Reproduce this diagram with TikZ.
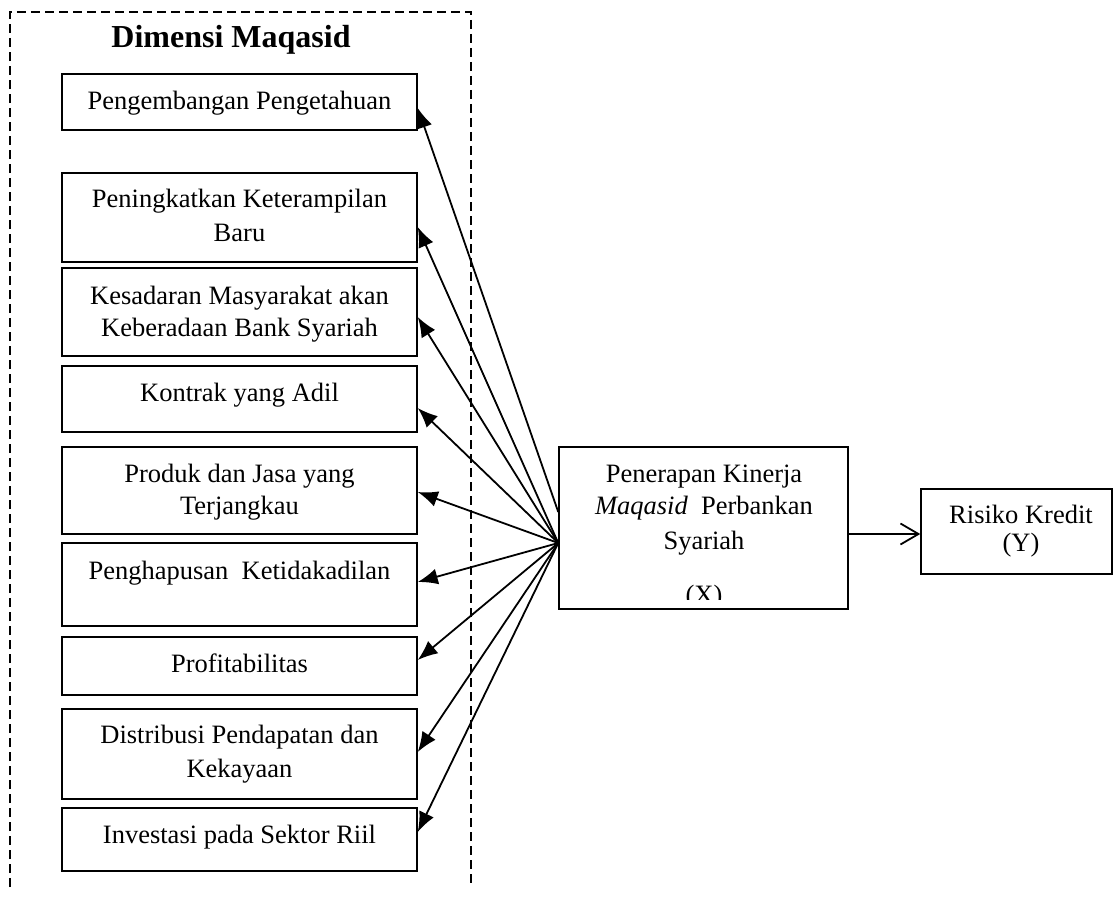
\documentclass[tikz,border=0pt]{standalone}
\usepackage{fontspec}
\setmainfont{Liberation Serif}
\usetikzlibrary{arrows.meta}
\begin{document}
\begin{tikzpicture}[x=1pt,y=-1pt,
  box/.style={draw, line width=1.5pt, inner sep=0pt, minimum width=355pt},
  lbl/.style={anchor=base, inner sep=0pt, font=\fontsize{26.5}{33}\selectfont},
  fan/.style={line width=1.8pt, -{Latex[length=20pt,width=16pt]}},
  barb/.style={line width=1.8pt, -{Straight Barb[length=18pt,width=21pt,line width=1.8pt]}},
  frame/.style={line width=1.8pt, dash pattern=on 9pt off 5pt}]
\useasboundingbox (0,0) rectangle (1114,899);
% dashed container
\draw[frame] (10,887) -- (10,12) -- (471,12) -- (471,887);
\node[anchor=base, inner sep=0pt, font=\fontsize{32}{38}\selectfont\bfseries] (title) at (231,48) {Dimensi Maqasid};
% boxes
\node[box, minimum height=56pt] (b1) at (239.5,102) {};
\node[box, minimum height=89pt] (b2) at (239.5,217.5) {};
\node[box, minimum height=88pt] (b3) at (239.5,312) {};
\node[box, minimum height=66pt] (b4) at (239.5,399) {};
\node[box, minimum height=87pt] (b5) at (239.5,490.5) {};
\node[box, minimum height=83pt] (b6) at (239.5,584.5) {};
\node[box, minimum height=58pt] (b7) at (239.5,666) {};
\node[box, minimum height=90pt] (b8) at (239.5,754) {};
\node[box, minimum height=63pt] (b9) at (239.5,839.5) {};
% labels
\node[lbl] (t1) at (239.5,109) {Pengembangan Pengetahuan};
\node[lbl] (t2a) at (239.5,207) {Peningkatkan Keterampilan};
\node[lbl] (t2b) at (239.5,241) {Baru};
\node[lbl] (t3a) at (239.5,304) {Kesadaran Masyarakat akan};
\node[lbl] (t3b) at (239.5,336) {Keberadaan Bank Syariah};
\node[lbl] (t4) at (239.5,401) {Kontrak yang Adil};
\node[lbl] (t5a) at (239.5,482) {Produk dan Jasa yang};
\node[lbl] (t5b) at (239.5,514) {Terjangkau};
\node[lbl] (t6) at (239.5,579) {Penghapusan\ \ Ketidakadilan};
\node[lbl] (t7) at (239.5,672) {Profitabilitas};
\node[lbl] (t8a) at (239.5,743) {Distribusi Pendapatan dan};
\node[lbl] (t8b) at (239.5,777) {Kekayaan};
\node[lbl] (t9) at (239.5,843) {Investasi pada Sektor Riil};
% middle box
\node[draw, line width=1.5pt, inner sep=0pt, minimum width=289pt, minimum height=162pt] (m) at (703.5,528) {};
\node[lbl] (m1) at (704,482) {Penerapan Kinerja};
\node[lbl] (m2) at (704,514) {\textit{Maqasid}\ \ Perbankan};
\node[lbl] (m3) at (704,549) {Syariah};
\begin{scope}
\clip (559,447) rectangle (848,599);
\node[lbl] (m4) at (704,603) {(X)};
\end{scope}
% right box
\node[draw, line width=1.5pt, inner sep=0pt, minimum width=191pt, minimum height=85pt] (r) at (1016.5,531.5) {};
\node[lbl] (r1) at (1021,523) {Risiko Kredit};
\node[lbl] (r2) at (1021,551) {(Y)};
% connectors
\coordinate (o) at ([yshift=-15pt]m.west);
\coordinate (o1) at ([yshift=16pt]m.west);
\draw[fan] (o1) -- ([yshift=-6pt]b1.east);
\draw[fan] (o) -- ([yshift=-9.5pt]b2.east);
\draw[fan] (o) -- ([yshift=-5pt]b3.east);
\draw[fan] (o) -- ([yshift=-9pt]b4.east);
\draw[fan] (o) -- ([yshift=-1.5pt]b5.east);
\draw[fan] (o) -- ([yshift=2.5pt]b6.east);
\draw[fan] (o) -- ([yshift=6pt]b7.east);
\draw[fan] (o) -- ([yshift=2pt]b8.east);
\draw[fan] (o) -- ([yshift=7.5pt]b9.east);
\coordinate (a1) at ([yshift=-6pt]m.east);
\draw[barb] (a1) -- (a1 -| r.west);
\end{tikzpicture}
\end{document}
